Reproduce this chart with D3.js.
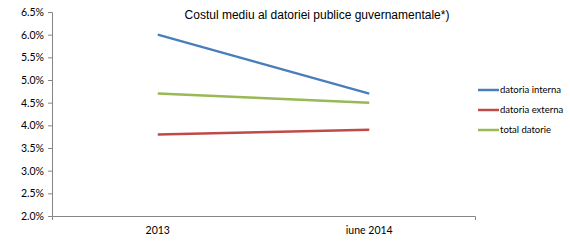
<!DOCTYPE html>
<html>
<head>
<meta charset="utf-8">
<script src="https://cdn.jsdelivr.net/npm/d3@7"></script>
<style>
  body { margin: 0; background: #fff; }
  svg { display: block; }
</style>
</head>
<body>
<svg id="chart" width="570" height="243"></svg>
<script>
// data
const categories = ["2013", "iune 2014"];
const seriesNames = ["datoria interna", "datoria externa", "total datorie"];
const interna = [6.0, 4.7];
const externa = [3.8, 3.9];
const total = [4.7, 4.5];
const yTicks = [2.0, 2.5, 3.0, 3.5, 4.0, 4.5, 5.0, 5.5, 6.0, 6.5];
const colors = ["#4a7ebb", "#be4b48", "#98b954"];

const series = [interna, externa, total];

const svg = d3.select("#chart");
const margin = { top: 12, right: 95, bottom: 27, left: 52 };
const width = 570;
const height = 243;

const x = d3.scaleBand()
  .domain(categories)
  .range([margin.left, width - margin.right]);

const y = d3.scaleLinear()
  .domain([2.0, 6.5])
  .range([height - margin.bottom, margin.top]);

// y axis
const yAxis = svg.append("g")
  .attr("transform", `translate(${margin.left},0)`)
  .call(d3.axisLeft(y).tickValues(yTicks).tickSize(4).tickPadding(4)
    .tickFormat(d => d.toFixed(1) + "%"));
yAxis.select(".domain").attr("stroke", "#868686");
yAxis.selectAll(".tick line").attr("stroke", "#868686");
yAxis.selectAll("text")
  .style("font-family", "Lato, 'Open Sans', sans-serif")
  .style("font-size", "10.5px")
  .attr("fill", "#000");

// x axis
const xAxis = svg.append("g")
  .attr("transform", `translate(0,${height - margin.bottom})`)
  .call(d3.axisBottom(x).tickSize(0).tickPadding(11).tickSizeOuter(4));
xAxis.select(".domain").attr("stroke", "#868686");
xAxis.selectAll("text")
  .style("font-family", "Lato, 'Open Sans', sans-serif")
  .style("font-size", "10.5px")
  .attr("fill", "#000");

// lines
const line = d3.line()
  .x((d, i) => x(categories[i]) + x.bandwidth() / 2)
  .y(d => y(d));

series.forEach((s, i) => {
  svg.append("path")
    .datum(s)
    .attr("fill", "none")
    .attr("stroke", colors[i])
    .attr("stroke-width", 2.5)
    .attr("d", line);
});

// title
svg.append("text")
  .attr("x", 317)
  .attr("y", 19)
  .attr("text-anchor", "middle")
  .style("font-family", "'Liberation Sans', Arial, sans-serif")
  .style("font-size", "12px")
  .text("Costul mediu al datoriei publice guvernamentale*)");

// legend
const legend = svg.append("g")
  .attr("transform", "translate(478,90)");

seriesNames.forEach((name, i) => {
  const g = legend.append("g").attr("transform", `translate(0,${i * 20})`);
  g.append("line")
    .attr("x1", 0).attr("x2", 21)
    .attr("y1", 0).attr("y2", 0)
    .attr("stroke", colors[i])
    .attr("stroke-width", 2.5);
  g.append("text")
    .attr("x", 22)
    .attr("y", 3)
    .style("font-family", "Lato, 'Open Sans', sans-serif")
    .style("font-size", "9.5px")
    .text(name);
});
</script>
</body>
</html>
